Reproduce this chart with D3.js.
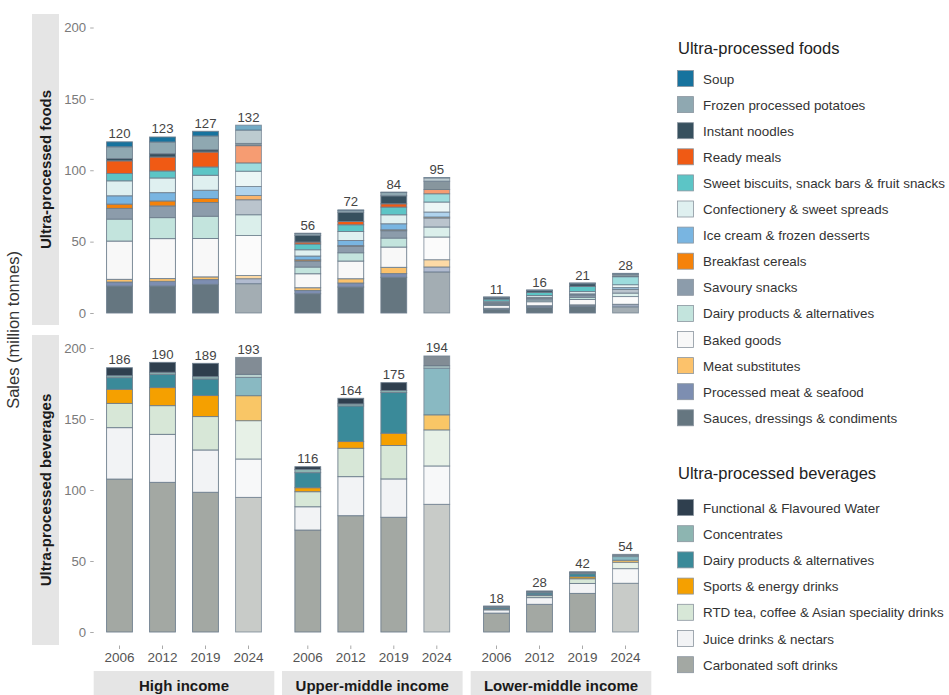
<!DOCTYPE html>
<html>
<head>
<meta charset="utf-8">
<script src="https://cdn.jsdelivr.net/npm/d3@7"></script>
<style>
  html, body { margin: 0; padding: 0; background: #fff; }
  svg { display: block; font-family: "Liberation Sans", Arial, Helvetica, sans-serif; }
</style>
</head>
<body>
<svg id="chart" width="949" height="695"></svg>
<script>
// ---------------- DATA ----------------
const incomes = ["High income", "Upper-middle income", "Lower-middle income"];
const years = ["2006", "2012", "2019", "2024"];

// Food categories (legend order = top of stack first)
const foodCats = ["Soup", "Frozen processed potatoes", "Instant noodles", "Ready meals",
  "Sweet biscuits, snack bars & fruit snacks", "Confectionery & sweet spreads",
  "Ice cream & frozen desserts", "Breakfast cereals", "Savoury snacks",
  "Dairy products & alternatives", "Baked goods", "Meat substitutes",
  "Processed meat & seafood", "Sauces, dressings & condiments"];
const foodColors = ["#17739e", "#8fa8b1", "#37505e", "#f05a14", "#5cc5c6", "#dff0f0",
  "#79b5e1", "#f5820a", "#8c9cab", "#c3e4dd", "#f8f8f8", "#fcc26b", "#7d8eb1", "#657680"];

// values per category: High 2006,2012,2019,2024 | Upper-middle ... | Lower-middle ...
const soup          = [3.5, 3.5, 3.3, 3.5,   0.3, 0.3, 0.3, 0.3,   0.1, 0.1, 0.1, 0.2];
const frozenPotato  = [8.2, 8.2, 9.6, 9.3,   1.2, 1.3, 2.3, 2.3,   0.2, 0.3, 0.4, 0.6];
const instantNoodle = [1.6, 2.3, 1.6, 1.6,   4.7, 6.5, 5.6, 5.8,   1.0, 1.2, 1.8, 1.4];
const readyMeals    = [8.9, 9.8, 10.5, 12.1, 1.4, 2.3, 2.3, 3.0,   0.1, 0.1, 0.1, 0.2];
const sweetBiscuits = [5.1, 4.9, 5.8, 5.8,   4.0, 4.7, 5.4, 5.8,   1.5, 2.1, 3.6, 5.6];
const confectionery = [10.5, 10.3, 10.5, 10.7, 4.4, 6.3, 6.3, 7.0, 0.9, 1.3, 1.6, 1.9];
const iceCream      = [5.8, 5.8, 5.8, 6.3,   2.6, 3.5, 4.2, 3.5,   0.4, 0.5, 0.6, 1.2];
const breakfast     = [3.0, 3.5, 2.8, 3.0,   0.9, 0.7, 0.7, 0.7,   0.1, 0.1, 0.2, 0.2];
const savourySnacks = [7.5, 8.2, 9.6, 10.5,  4.2, 4.4, 5.1, 6.3,   0.9, 1.3, 1.6, 2.6];
const dairyFood     = [15.4, 14.7, 15.6, 14.5, 4.7, 5.8, 6.3, 7.0, 0.8, 1.2, 1.5, 2.4];
const bakedGoods    = [26.8, 28.0, 26.9, 28.0, 9.8, 12.4, 14.2, 15.9, 1.9, 2.8, 3.8, 5.4];
const meatSubs      = [1.9, 1.9, 1.9, 2.3,   1.9, 3.0, 4.4, 5.1,   0.1, 0.2, 0.2, 0.3];
const processedMeat = [2.8, 3.3, 3.3, 3.5,   2.3, 2.8, 2.6, 3.5,   0.7, 0.9, 1.0, 1.5];
const sauces        = [18.9, 18.9, 20.1, 20.5, 13.5, 18.2, 25.0, 28.7, 2.5, 4.0, 4.5, 4.3];
const foodValues = [soup, frozenPotato, instantNoodle, readyMeals, sweetBiscuits, confectionery,
  iceCream, breakfast, savourySnacks, dairyFood, bakedGoods, meatSubs, processedMeat, sauces];
const foodTotals = [120, 123, 127, 132, 56, 72, 84, 95, 11, 16, 21, 28];

// Beverage categories
const bevCats = ["Functional & Flavoured Water", "Concentrates", "Dairy products & alternatives",
  "Sports & energy drinks", "RTD tea, coffee & Asian speciality drinks",
  "Juice drinks & nectars", "Carbonated soft drinks"];
const bevColors = ["#2f3f4e", "#8db5b1", "#3a8a99", "#f5a000", "#d7e7d7", "#f2f3f5", "#a3a8a3"];

const functionalWater = [5.6, 7.0, 9.4, 12.0,  1.9, 4.0, 5.6, 7.0,   0.6, 0.7, 0.7, 0.7];
const concentrates    = [1.4, 1.4, 1.6, 2.1,   2.3, 1.4, 1.4, 1.6,   0.4, 0.7, 0.7, 0.9];
const dairyBev        = [8.2, 9.4, 11.7, 12.9, 10.6, 25.1, 28.6, 32.9, 1.0, 1.4, 2.1, 2.6];
const sportsEnergy    = [9.9, 12.7, 14.8, 17.6, 2.8, 4.7, 8.7, 10.6, 0.3, 0.5, 1.4, 1.4];
const rtdTea          = [17.1, 20.2, 23.5, 27.0, 10.6, 20.0, 23.5, 25.4, 0.4, 1.4, 3.3, 4.5];
const juiceDrinks     = [36.2, 33.8, 29.8, 27.0, 16.4, 27.5, 27.0, 27.0, 2.3, 4.7, 7.0, 10.3];
const carbonated      = [107.7, 105.4, 98.4, 94.8, 71.8, 81.9, 80.8, 89.9, 13.3, 19.5, 27.2, 34.3];
const bevValues = [functionalWater, concentrates, dairyBev, sportsEnergy, rtdTea, juiceDrinks, carbonated];
const bevTotals = [186, 190, 189, 193, 116, 164, 175, 194, 18, 28, 42, 54];

const yTicks = [0, 50, 100, 150, 200];

// ---------------- LAYOUT ----------------
const svg = d3.select("#chart");
const panelLeft = [93.7, 282, 470.7];
const panelW = 180.6;
const rows = [
  { name: "Ultra-processed foods", top: 14, bottom: 325, y: d3.scaleLinear([0, 200], [313, 27.5]),
    cats: foodCats, colors: foodColors, values: foodValues, totals: foodTotals },
  { name: "Ultra-processed beverages", top: 335, bottom: 645, y: d3.scaleLinear([0, 200], [632, 348]),
    cats: bevCats, colors: bevColors, values: bevValues, totals: bevTotals }
];
const xBand = d3.scaleBand().domain(years).range([0, panelW]).paddingInner(0.4).paddingOuter(0.3);

const stripFill = "#e5e5e5";
const barStroke = "#6f7f8e";

// Y axis title
svg.append("text")
  .attr("transform", "translate(19,330) rotate(-90)")
  .attr("text-anchor", "middle")
  .attr("font-size", 16.5).attr("fill", "#333")
  .text("Sales (million tonnes)");

rows.forEach((row) => {
  // left strip
  svg.append("rect").attr("x", 32).attr("y", row.top).attr("width", 27)
    .attr("height", row.bottom - row.top).attr("fill", stripFill);
  svg.append("text")
    .attr("transform", `translate(${51},${(row.top + row.bottom) / 2}) rotate(-90)`)
    .attr("text-anchor", "middle").attr("font-size", 15).attr("font-weight", "bold")
    .attr("fill", "#1a1a1a").text(row.name);

  // y axis
  const ax = svg.append("g").attr("transform", `translate(${panelLeft[0]},0)`)
    .call(d3.axisLeft(row.y).tickValues(yTicks).tickSize(3.5).tickPadding(4));
  ax.select(".domain").remove();
  ax.selectAll(".tick line").attr("stroke", "#aaa");
  ax.selectAll(".tick text").attr("font-size", 13.2).attr("fill", "#7a7a7a")
    .attr("font-family", "Liberation Sans, Arial, sans-serif");

  // stacked data
  const stackData = [];
  incomes.forEach((inc, ii) => {
    years.forEach((yr, yi) => {
      const idx = ii * 4 + yi;
      const d = { income: ii, year: yr, idx };
      row.cats.forEach((c, ci) => { d[c] = row.values[ci][idx]; });
      stackData.push(d);
    });
  });
  const keys = row.cats.slice().reverse(); // bottom of stack first
  const series = d3.stack().keys(keys)(stackData);

  const g = svg.append("g");
  series.forEach((s) => {
    const ci = row.cats.indexOf(s.key);
    g.selectAll(null).data(s).enter().append("rect")
      .attr("x", (d) => panelLeft[d.data.income] + xBand(d.data.year))
      .attr("width", xBand.bandwidth())
      .attr("y", (d) => row.y(d[1]))
      .attr("height", (d) => Math.max(0, row.y(d[0]) - row.y(d[1])))
      .attr("fill", row.colors[ci])
      .attr("fill-opacity", (d) => d.data.year === "2024" ? 0.6 : 1)
      .attr("stroke", barStroke)
      .attr("stroke-opacity", (d) => d.data.year === "2024" ? 0.8 : 1)
      .attr("stroke-width", 0.9);
  });

  // total labels
  const topSeries = series[series.length - 1];
  g.selectAll(null).data(topSeries).enter().append("text")
    .attr("x", (d) => panelLeft[d.data.income] + xBand(d.data.year) + xBand.bandwidth() / 2)
    .attr("y", (d) => row.y(d[1]) - 3.5)
    .attr("text-anchor", "middle").attr("font-size", 13.2).attr("fill", "#444")
    .text((d) => row.totals[d.data.idx]);
});

// x axis (bottom)
incomes.forEach((inc, ii) => {
  const xa = svg.append("g").attr("transform", `translate(${panelLeft[ii]},645.5)`)
    .call(d3.axisBottom(xBand).tickSize(3.5).tickPadding(3));
  xa.select(".domain").remove();
  xa.selectAll(".tick line").attr("stroke", "#aaa");
  xa.selectAll(".tick text").attr("font-size", 13.5).attr("fill", "#555")
    .attr("font-family", "Liberation Sans, Arial, sans-serif");

  svg.append("rect").attr("x", panelLeft[ii]).attr("y", 671).attr("width", panelW)
    .attr("height", 30).attr("fill", stripFill);
  svg.append("text").attr("x", panelLeft[ii] + panelW / 2).attr("y", 691)
    .attr("text-anchor", "middle").attr("font-size", 15).attr("font-weight", "bold")
    .attr("fill", "#1a1a1a").text(inc);
});

// ---------------- LEGENDS ----------------
function legend(title, cats, colors, titleY, firstY, step) {
  const lg = svg.append("g");
  lg.append("text").attr("x", 678).attr("y", titleY).attr("font-size", 16.5)
    .attr("fill", "#222").text(title);
  cats.forEach((c, i) => {
    const cy = firstY + i * step;
    lg.append("rect").attr("x", 677.5).attr("y", cy - 8.5).attr("width", 16).attr("height", 16)
      .attr("fill", colors[i]).attr("stroke", "#8a959f").attr("stroke-width", 0.8);
    lg.append("text").attr("x", 703).attr("y", cy + 4.5).attr("font-size", 13.4)
      .attr("fill", "#333").text(c);
  });
}
legend("Ultra-processed foods", foodCats, foodColors, 54, 79, 26.1);
legend("Ultra-processed beverages", bevCats, bevColors, 479, 508, 26.2);
</script>
</body>
</html>
